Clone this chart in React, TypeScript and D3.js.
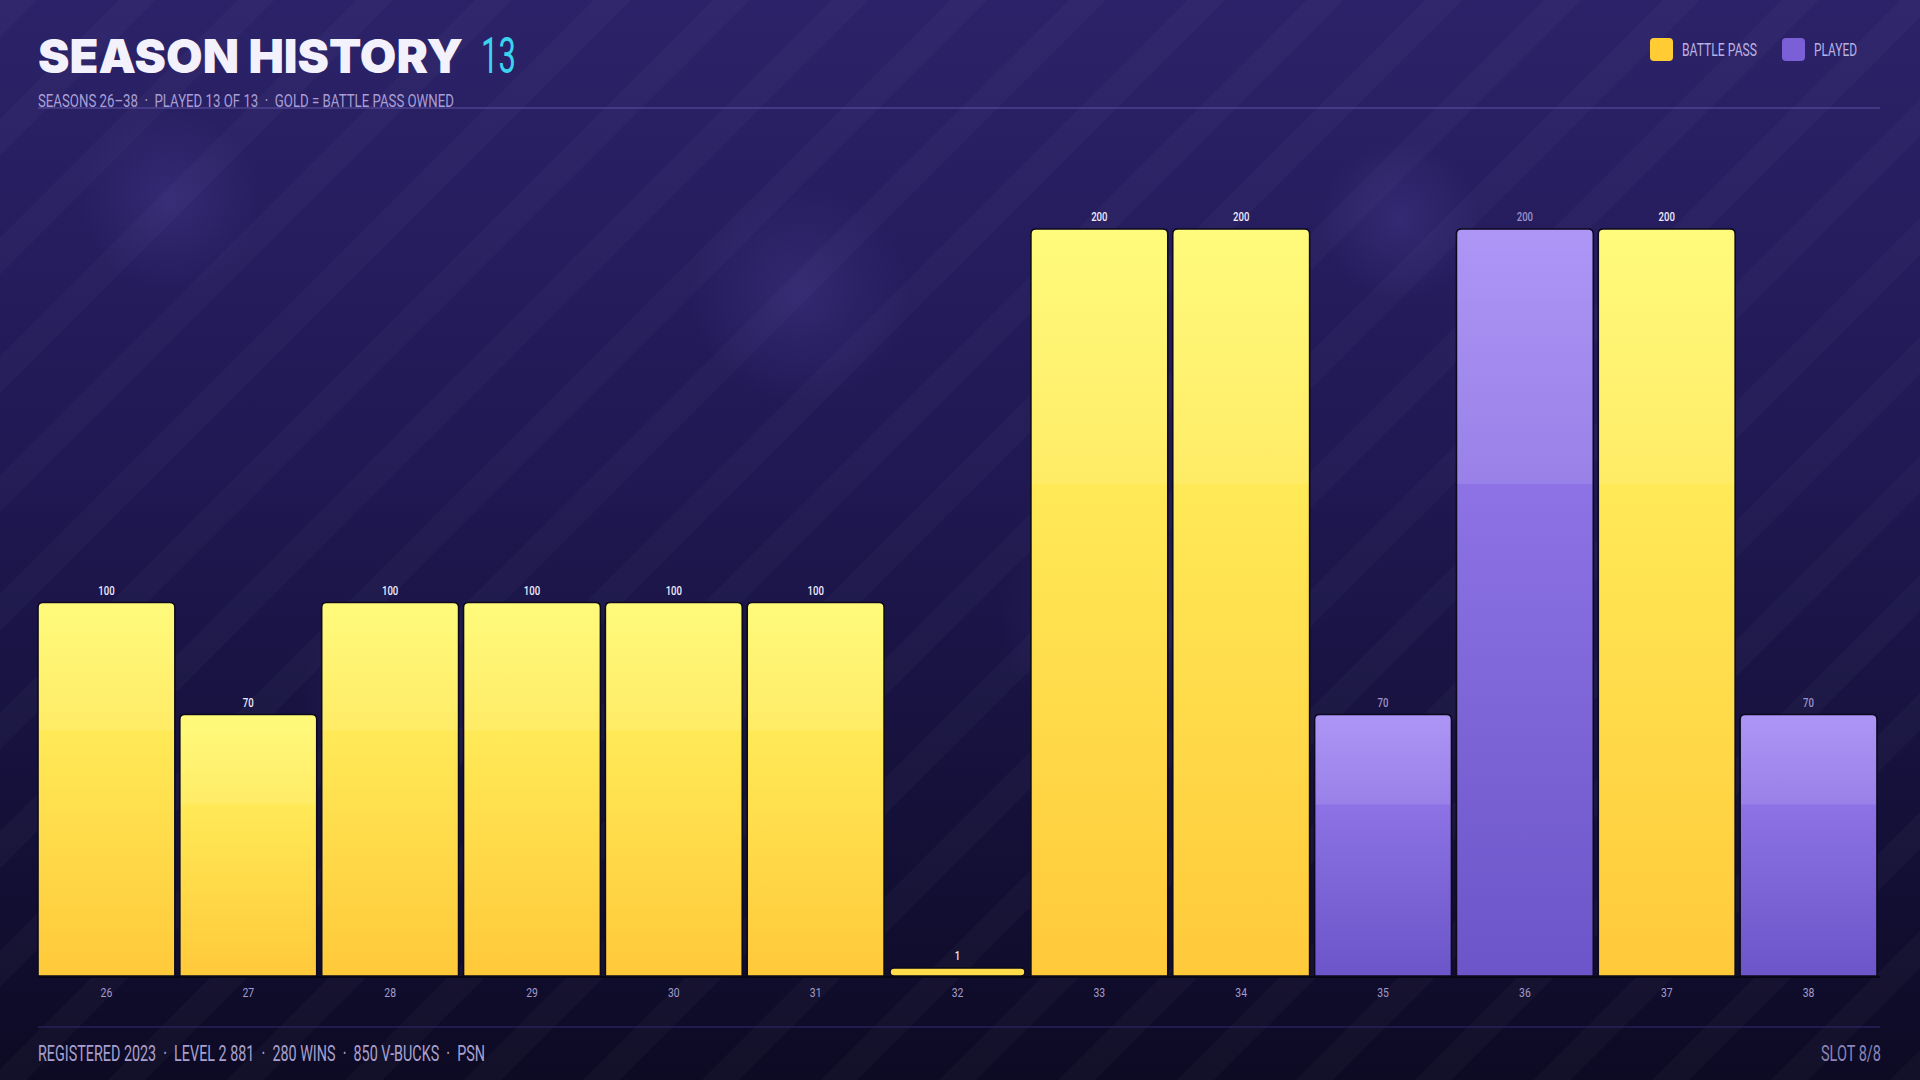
import React, { useEffect, useRef } from "react";
import * as d3 from "d3";

const seasons = ["26", "27", "28", "29", "30", "31", "32", "33", "34", "35", "36", "37", "38"];
const levels = [100, 70, 100, 100, 100, 100, 1, 200, 200, 70, 200, 200, 70];
const battlePass = [true, true, true, true, true, true, true, true, true, false, false, true, false];
const legendItems = ["BATTLE PASS", "PLAYED"];
const footerLeft = "REGISTERED 2023  ·  LEVEL 2 881  ·  280 WINS  ·  850 V-BUCKS  ·  PSN";
const footerRight = "SLOT 8/8";
const subtitle = "SEASONS 26–38  ·  PLAYED 13 OF 13  ·  GOLD = BATTLE PASS OWNED";

const W = 1920;
const H = 1080;
const narrow = "'Roboto', 'DejaVu Sans Condensed', sans-serif";

// squeeze text horizontally to mimic a condensed face
function squeeze(sel, x: number, y: number, sx: number, anchor = "start") {
    return sel
        .attr("x", 0)
        .attr("y", 0)
        .attr("text-anchor", anchor)
        .attr("transform", `translate(${x},${y}) scale(${sx},1)`);
}

export default function App() {
    const ref = useRef(null);

    useEffect(() => {
        const svg = d3.select(ref.current);
        svg.selectAll("*").remove();

        const defs = svg.append("defs");

        const bg = defs.append("linearGradient").attr("id", "bg").attr("x1", 0).attr("y1", 0).attr("x2", 0).attr("y2", 1);
        bg.append("stop").attr("offset", "0%").attr("stop-color", "#2c2269");
        bg.append("stop").attr("offset", "45%").attr("stop-color", "#1f1852");
        bg.append("stop").attr("offset", "100%").attr("stop-color", "#0d0a24");

        const pat = defs.append("pattern")
            .attr("id", "stripes")
            .attr("patternUnits", "userSpaceOnUse")
            .attr("width", 84)
            .attr("height", 84)
            .attr("patternTransform", "rotate(45)");
        pat.append("rect").attr("width", 26).attr("height", 84).attr("fill", "#ffffff").attr("opacity", 0.025);

        const glow = defs.append("radialGradient").attr("id", "glow");
        glow.append("stop").attr("offset", "0%").attr("stop-color", "#6a5ac8").attr("stop-opacity", 0.2);
        glow.append("stop").attr("offset", "100%").attr("stop-color", "#6a5ac8").attr("stop-opacity", 0);

        const gold = defs.append("linearGradient").attr("id", "gold").attr("x1", 0).attr("y1", 0).attr("x2", 0).attr("y2", 1);
        gold.append("stop").attr("offset", "0%").attr("stop-color", "#fffa66");
        gold.append("stop").attr("offset", "100%").attr("stop-color", "#ffc93a");

        const purple = defs.append("linearGradient").attr("id", "purple").attr("x1", 0).attr("y1", 0).attr("x2", 0).attr("y2", 1);
        purple.append("stop").attr("offset", "0%").attr("stop-color", "#9e82f4");
        purple.append("stop").attr("offset", "100%").attr("stop-color", "#6b55c8");

        const gloss = defs.append("linearGradient").attr("id", "gloss").attr("x1", 0).attr("y1", 0).attr("x2", 0).attr("y2", 1);
        gloss.append("stop").attr("offset", "0%").attr("stop-color", "#ffffff").attr("stop-opacity", 0.16);
        gloss.append("stop").attr("offset", "100%").attr("stop-color", "#ffffff").attr("stop-opacity", 0.1);

        // background
        svg.append("rect").attr("width", W).attr("height", H).attr("fill", "url(#bg)");
        svg.append("rect").attr("width", W).attr("height", H).attr("fill", "url(#stripes)");
        [[170, 200, 90], [800, 295, 110], [1400, 220, 80], [1120, 620, 120], [400, 700, 100]].forEach(([cx, cy, r]) => {
            svg.append("circle").attr("cx", cx).attr("cy", cy).attr("r", r).attr("fill", "url(#glow)");
        });

        // header
        svg.append("text")
            .attr("x", 38)
            .attr("y", 73)
            .attr("font-family", "Inter, Lato, sans-serif")
            .attr("font-weight", 900)
            .attr("font-size", 47)
            .attr("textLength", 425)
            .attr("lengthAdjust", "spacingAndGlyphs")
            .attr("fill", "#f3f1fb")
            .text("SEASON HISTORY");
        squeeze(svg.append("text"), 481, 73, 0.62)
            .attr("font-family", narrow)
            .attr("font-size", 50)
            .attr("fill", "#3ad4ef")
            .text("13");

        svg.append("line")
            .attr("x1", 38).attr("x2", 1880)
            .attr("y1", 108).attr("y2", 108)
            .attr("stroke", "#5a4fa0").attr("stroke-opacity", 0.7).attr("stroke-width", 1.5);

        svg.append("text")
            .attr("x", 38)
            .attr("y", 107)
            .attr("font-family", narrow)
            .attr("font-size", 18.5)
            .attr("fill", "#a89fd6")
            .attr("textLength", 416)
            .attr("lengthAdjust", "spacingAndGlyphs")
            .style("white-space", "pre")
            .text(subtitle);

        // legend
        const legend = svg.append("g").attr("font-family", narrow).attr("font-size", 18);
        const legendX = [1650, 1782];
        const legendW = [75, 43];
        legendItems.forEach((name, i) => {
            legend.append("rect")
                .attr("x", legendX[i]).attr("y", 38)
                .attr("width", 23).attr("height", 23).attr("rx", 4)
                .attr("fill", i === 0 ? "#ffcc33" : "#7a5fd6");
            legend.append("text")
                .attr("x", legendX[i] + 32).attr("y", 56)
                .attr("fill", "#b9b1e2")
                .attr("textLength", legendW[i])
                .attr("lengthAdjust", "spacingAndGlyphs")
                .text(name);
        });

        // chart
        const x = d3.scaleBand().domain(seasons).range([38, 1877]).paddingInner(0.035).paddingOuter(0);
        const y = d3.scaleLinear().domain([0, 200]).range([976, 229]);
        const data = seasons.map((s, i) => ({ s, v: levels[i], bp: battlePass[i] }));

        svg.append("line")
            .attr("x1", 38).attr("x2", 1880)
            .attr("y1", 977).attr("y2", 977)
            .attr("stroke", "#05040f").attr("stroke-opacity", 0.8).attr("stroke-width", 2);

        const minH = 8;
        const barPath = (x0: number, y0: number, w: number, h: number, r: number) => {
            const rr = Math.min(r, h / 2, w / 2);
            return `M${x0},${y0 + h}V${y0 + rr}Q${x0},${y0} ${x0 + rr},${y0}H${x0 + w - rr}Q${x0 + w},${y0} ${x0 + w},${y0 + rr}V${y0 + h}Z`;
        };

        const bars = svg.append("g").selectAll("g").data(data).join("g");
        bars.each(function (d) {
            const g = d3.select(this);
            const bx = x(d.s)!;
            const bw = x.bandwidth();
            const h = Math.max(y(0) - y(d.v), minH);
            const top = y(0) - h;
            if (h <= minH) {
                g.append("rect")
                    .attr("x", bx + 1).attr("y", top)
                    .attr("width", bw - 2).attr("height", h)
                    .attr("rx", h / 2)
                    .attr("fill", d.bp ? "#ffdd4a" : "#8a6ee4")
                    .attr("stroke", "#0a0818").attr("stroke-width", 1.5);
            } else {
                g.append("path")
                    .attr("d", barPath(bx, top, bw, h, 5))
                    .attr("fill", d.bp ? "url(#gold)" : "url(#purple)")
                    .attr("stroke", "#0c0a1c").attr("stroke-width", 1.6);
                g.append("path")
                    .attr("d", barPath(bx + 1, top + 1, bw - 2, h * 0.34, 4))
                    .attr("fill", "url(#gloss)")
                    .attr("opacity", d.bp ? 0.9 : 1);
            }
            squeeze(g.append("text"), bx + bw / 2, top - 8, 0.8, "middle")
                .attr("font-family", narrow)
                .attr("font-size", 12)
                .attr("font-weight", 500)
                .attr("fill", d.bp ? "#eeebff" : "#9a91c9")
                .text(d.v);
        });

        const ticks = svg.append("g")
            .attr("font-family", narrow)
            .attr("font-size", 13)
            .attr("fill", "#a39cc9");
        seasons.forEach((s) => {
            squeeze(ticks.append("text"), x(s)! + x.bandwidth() / 2, 997, 0.8, "middle").text(s);
        });

        // footer
        svg.append("line")
            .attr("x1", 38).attr("x2", 1880)
            .attr("y1", 1027).attr("y2", 1027)
            .attr("stroke", "#2e2766").attr("stroke-opacity", 0.8).attr("stroke-width", 1.5);

        svg.append("text")
            .attr("x", 38).attr("y", 1061)
            .attr("font-family", narrow)
            .attr("font-size", 22)
            .attr("fill", "#a8a1cf")
            .attr("textLength", 447)
            .attr("lengthAdjust", "spacingAndGlyphs")
            .style("white-space", "pre")
            .text(footerLeft);
        svg.append("text")
            .attr("x", 1821).attr("y", 1061)
            .attr("font-family", narrow)
            .attr("font-size", 22)
            .attr("fill", "#8c85b8")
            .attr("textLength", 60)
            .attr("lengthAdjust", "spacingAndGlyphs")
            .text(footerRight);
    }, []);

    return (
        <svg
            ref={ref}
            width={W}
            height={H}
            style={{ position: "fixed", left: 0, top: 0, display: "block" }}
        />
    );
}
